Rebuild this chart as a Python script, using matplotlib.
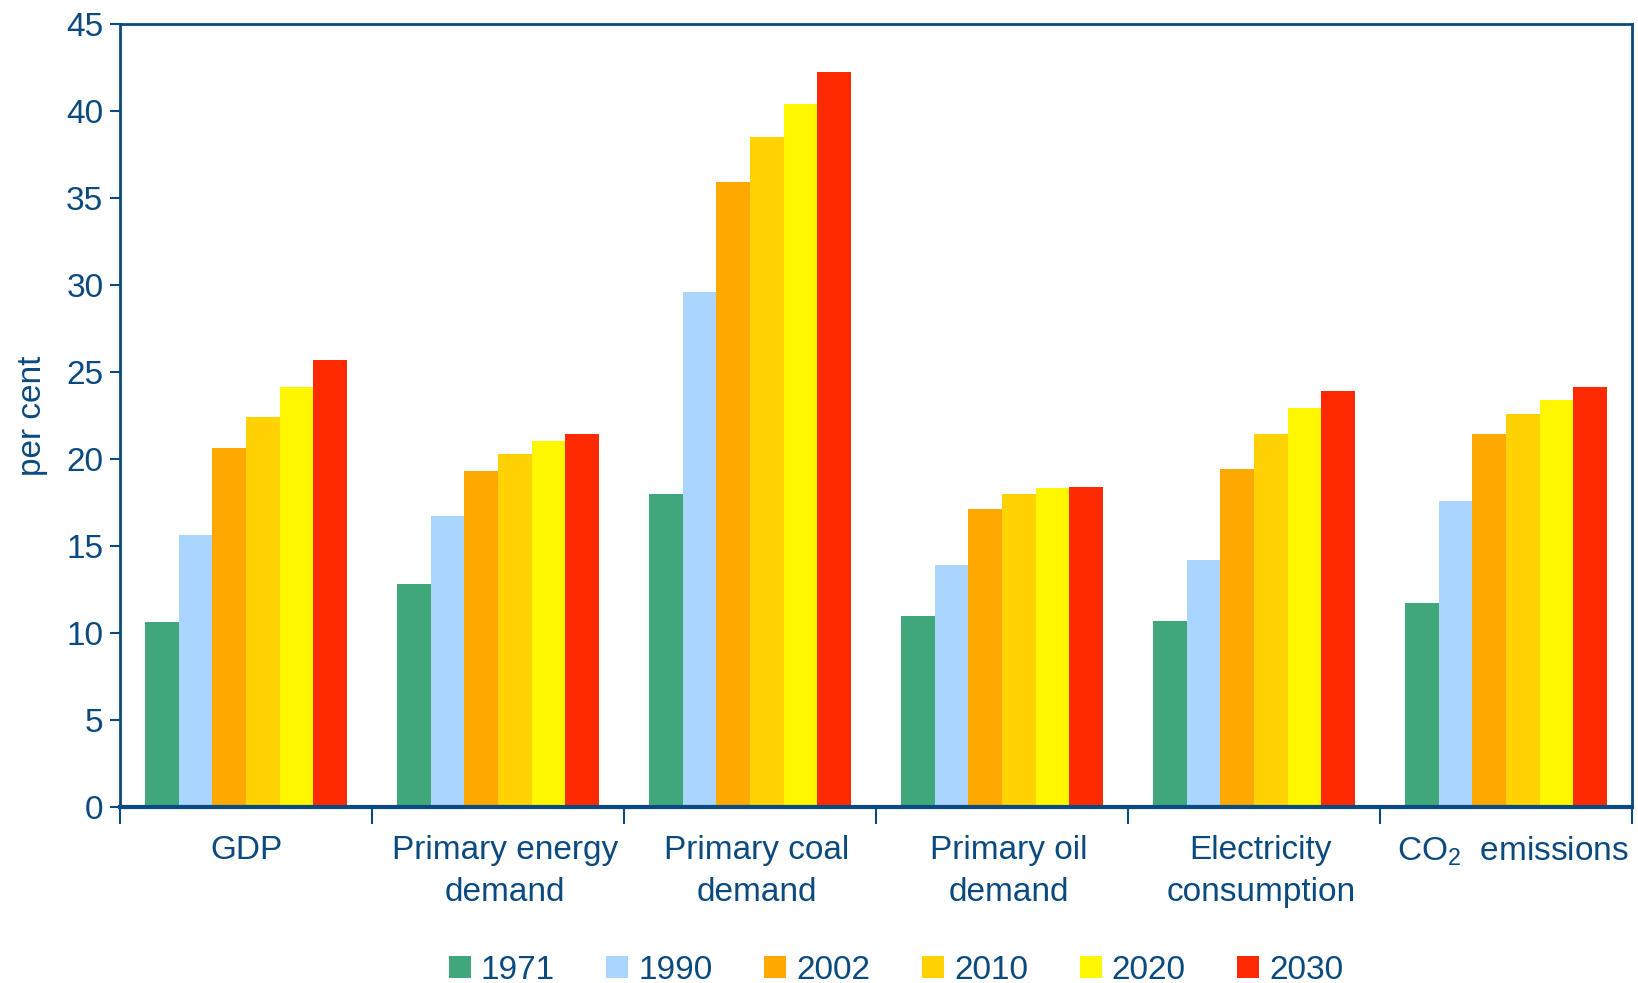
import numpy as np
import matplotlib.pyplot as plt
from matplotlib.patches import Patch
from matplotlib.transforms import ScaledTranslation

plt.rcParams['font.family'] = ['Liberation Sans', 'DejaVu Sans']
plt.rcParams['mathtext.fontset'] = 'custom'
plt.rcParams['mathtext.rm'] = 'Liberation Sans'
plt.rcParams['mathtext.it'] = 'Liberation Sans'

categories = ['GDP', 'Primary energy\ndemand', 'Primary coal\ndemand',
              'Primary oil\ndemand', 'Electricity\nconsumption', 'CO$_2$  emissions']
years = ['1971', '1990', '2002', '2010', '2020', '2030']

share_1971 = [10.6, 12.8, 18.0, 11.0, 10.7, 11.7]
share_1990 = [15.6, 16.7, 29.6, 13.9, 14.2, 17.6]
share_2002 = [20.6, 19.3, 35.9, 17.1, 19.4, 21.4]
share_2010 = [22.4, 20.3, 38.5, 18.0, 21.4, 22.6]
share_2020 = [24.1, 21.0, 40.4, 18.3, 22.9, 23.4]
share_2030 = [25.7, 21.4, 42.2, 18.4, 23.9, 24.1]
series = [share_1971, share_1990, share_2002, share_2010, share_2020, share_2030]

colors = ['#3FA77A', '#AAD5FF', '#FFA800', '#FFD200', '#FFF700', '#FF2A00']
navy = '#0B4A7E'

fig = plt.figure(figsize=(16.38, 9.83), dpi=100)
ax = fig.add_axes([0.0733, 0.179, 0.923, 0.797])

x = np.arange(len(categories))
w = 0.8 / len(series)
for i, vals in enumerate(series):
    ax.bar(x - 0.4 + w * (i + 0.5), vals, width=w, color=colors[i], linewidth=0)

ax.set_xlim(-0.5, len(categories) - 0.5)
ax.set_ylim(0, 45)
ax.set_yticks(np.arange(0, 46, 5))
ax.set_xticks(x)
ax.set_xticklabels(categories, fontsize=24, color=navy, linespacing=1.45)
ax.set_xticks(np.arange(-0.5, len(categories), 1.0), minor=True)
ax.tick_params(axis='x', which='major', length=0, pad=20)
ax.tick_params(axis='x', which='minor', length=12, width=1.5, color=navy)
ax.tick_params(axis='y', length=7, width=1.5, color=navy, labelsize=24,
               labelcolor=navy, pad=5)

# nudge the wrapped category labels a little to the right
nudge = ScaledTranslation(7 / 100, 0, fig.dpi_scale_trans)
for lbl in ax.get_xticklabels()[1:]:
    lbl.set_transform(lbl.get_transform() + nudge)

for side in ['left', 'top', 'right']:
    ax.spines[side].set_color(navy)
    ax.spines[side].set_linewidth(2)
ax.spines['bottom'].set_color(navy)
ax.spines['bottom'].set_linewidth(3)

ax.set_ylabel('per cent', fontsize=24, color=navy, labelpad=13)

handles = [Patch(facecolor=c, edgecolor='none', label=y) for c, y in zip(colors, years)]
leg = fig.legend(handles=handles, loc='center', bbox_to_anchor=(0.547, 0.013),
                 ncol=6, frameon=False, fontsize=24, handlelength=0.66,
                 handleheight=0.68, handletextpad=0.3, columnspacing=1.55)
for t in leg.get_texts():
    t.set_color(navy)

fig.savefig('out.png', dpi=100)
